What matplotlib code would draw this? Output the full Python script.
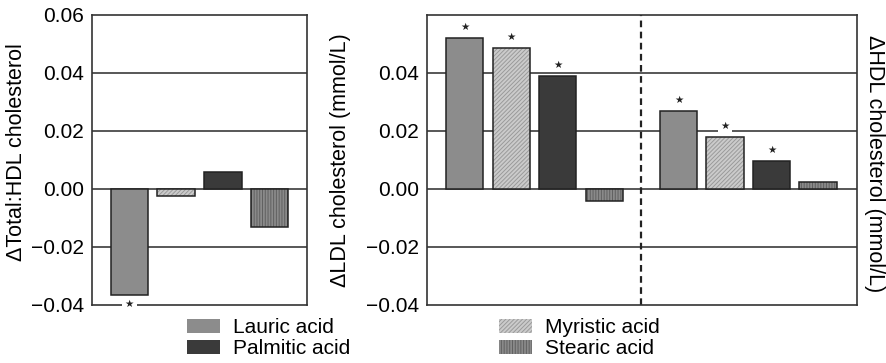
import matplotlib
matplotlib.use("Agg")
import matplotlib.pyplot as plt
from matplotlib.patches import Patch

plt.rcParams['font.family'] = ['Liberation Sans', 'DejaVu Sans']
plt.rcParams['hatch.linewidth'] = 0.7

# data
acids = ['Lauric acid', 'Myristic acid', 'Palmitic acid', 'Stearic acid']
total_hdl = [-0.0366, -0.0025, 0.0058, -0.0131]
total_hdl_sig = [True, False, False, False]
ldl = [0.0521, 0.0486, 0.0390, -0.0041]
ldl_sig = [True, True, True, False]
hdl = [0.0269, 0.0179, 0.0097, 0.0024]
hdl_sig = [True, True, True, False]
yticks_left = [-0.04, -0.02, 0.00, 0.02, 0.04, 0.06]
yticks_right = [-0.04, -0.02, 0.00, 0.02, 0.04]

# bar styles: face, hatch, hatch colour
styles = {
    'Lauric acid': ('#8c8c8c', None, '#8c8c8c'),
    'Myristic acid': ('#cbcbcb', '////////', '#9a9a9a'),
    'Palmitic acid': ('#3a3a3a', None, '#3a3a3a'),
    'Stearic acid': ('#8a8a8a', '||||||', '#606060'),
}
edge = '#222222'
fs = 15


def draw_bars(ax, xs, vals):
    for x, v, name in zip(xs, vals, acids):
        face, hatch, hcol = styles[name]
        ax.bar(x, v, width=0.8, color=face, hatch=hatch, edgecolor=hcol,
               linewidth=0, zorder=3)
        ax.bar(x, v, width=0.8, fill=False, edgecolor=edge, linewidth=1.1, zorder=4)


def draw_stars(ax, xs, vals, sig, boxed=()):
    for i, (x, v, s) in enumerate(zip(xs, vals, sig)):
        if not s:
            continue
        y = v + 0.0038 if v > 0 else v - 0.0032
        kw = {}
        if i in boxed:
            kw['bbox'] = dict(facecolor='white', edgecolor='none', pad=2)
        ax.text(x, y, '\u2605', ha='center', va='center', fontsize=7.5,
                family='DejaVu Sans', color='#222222', zorder=6, clip_on=False, **kw)


def style_axes(ax, ticks):
    ax.set_ylim(-0.04, 0.06)
    ax.set_yticks(ticks)
    ax.set_yticklabels([('%.2f' % t).replace('-', '\u2212') for t in ticks], fontsize=fs)
    ax.tick_params(axis='y', length=0, pad=6)
    ax.set_xticks([])
    for t in [-0.02, 0.0, 0.02, 0.04]:
        ax.axhline(t, color='#2a2a2a', linewidth=1.1, zorder=1)
    for sp in ax.spines.values():
        sp.set_color('#333333')
        sp.set_linewidth(1.2)


fig = plt.figure(figsize=(8.87, 3.63), dpi=100)

# left panel: total:HDL
ax1 = fig.add_axes([92 / 887, 58 / 363, 215 / 887, 290 / 363])
xs1 = [0, 1, 2, 3]
draw_bars(ax1, xs1, total_hdl)
style_axes(ax1, yticks_left)
ax1.set_xlim(-0.8, 3.8)
draw_stars(ax1, xs1, total_hdl, total_hdl_sig, boxed=(0,))

# right panel: LDL and HDL
ax2 = fig.add_axes([427 / 887, 58 / 363, 430 / 887, 290 / 363])
xs_ldl = [0, 1, 2, 3]
xs_hdl = [4.6, 5.6, 6.6, 7.6]
draw_bars(ax2, xs_ldl, ldl)
draw_bars(ax2, xs_hdl, hdl)
style_axes(ax2, yticks_right)
ax2.set_xlim(-0.81, 8.44)
ax2.axvline(3.8, color='#222222', linewidth=1.6, linestyle=(0, (3, 2)), zorder=2)
draw_stars(ax2, xs_ldl, ldl, ldl_sig)
draw_stars(ax2, xs_hdl, hdl, hdl_sig, boxed=(1,))

# axis titles
fig.text(17 / 887, 1 - 152 / 363, '\u0394Total:HDL cholesterol', rotation=90,
         ha='center', va='center', fontsize=15.5)
fig.text(341 / 887, 1 - 160 / 363, '\u0394LDL cholesterol (mmol/L)', rotation=90,
         ha='center', va='center', fontsize=15.5)
fig.text(875 / 887, 1 - 164 / 363, '\u0394HDL cholesterol (mmol/L)', rotation=-90,
         ha='center', va='center', fontsize=15.5)

# legend, two separate columns
def handle(name):
    face, hatch, hcol = styles[name]
    return Patch(facecolor=face, hatch=hatch, edgecolor=hcol, linewidth=0)

leg_kw = dict(frameon=False, fontsize=fs, handlelength=1.6, handleheight=0.65,
              handletextpad=0.6, labelspacing=0.1, borderpad=0, borderaxespad=0,
              loc='upper left')
fig.legend([handle('Lauric acid'), handle('Palmitic acid')],
           ['Lauric acid', 'Palmitic acid'],
           bbox_to_anchor=(187 / 887, 1 - 318 / 363), **leg_kw)
fig.legend([handle('Myristic acid'), handle('Stearic acid')],
           ['Myristic acid', 'Stearic acid'],
           bbox_to_anchor=(499 / 887, 1 - 318 / 363), **leg_kw)

fig.savefig('out.png', dpi=100)
